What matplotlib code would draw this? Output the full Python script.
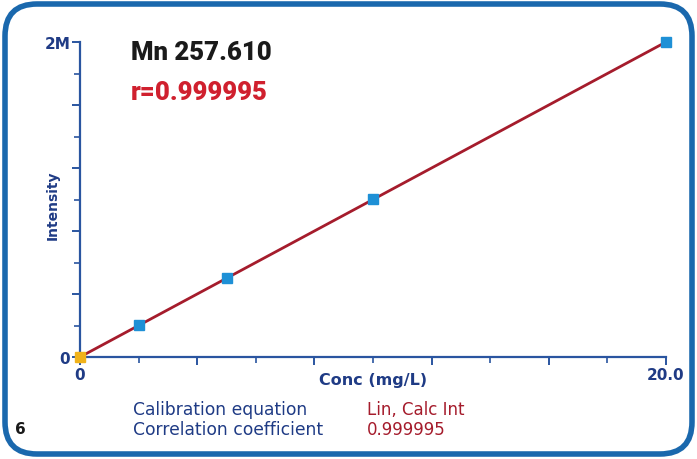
import matplotlib
matplotlib.use("Agg")
import matplotlib.pyplot as plt
from matplotlib.patches import FancyBboxPatch
from matplotlib.transforms import IdentityTransform

# calibration standards
conc = [0, 2, 5, 10, 20]
intensity = [0, 201000, 502000, 1004000, 2000000]
fit_x = [0, 20]
fit_y = [0, 2000000]

x_major = [0, 4, 8, 12, 16, 20]
x_minor = [2, 6, 10, 14, 18]
x_labels = {0: "0", 20: "20.0"}
y_major = [0, 400000, 800000, 1200000, 1600000, 2000000]
y_minor = [200000, 600000, 1000000, 1400000, 1800000]
y_labels = {0: "0", 2000000: "2M"}

navy = "#1f3b85"
axis_blue = "#2a55a0"
dark_red = "#a51c2c"
frame_blue = "#1a68ad"

fig = plt.figure(figsize=(6.97, 4.60), dpi=100)
ax = fig.add_axes([80 / 697, 1 - 358 / 460, 586 / 697, 315 / 460])

ax.plot(fit_x, fit_y, color=dark_red, lw=2, zorder=2, clip_on=False)
ax.plot(conc[1:], intensity[1:], "s", color="#1e90d6", ms=6.5, zorder=3, clip_on=False)
ax.plot(conc[:1], intensity[:1], "s", color="#f0b21a", ms=7, zorder=3, clip_on=False)

ax.set_xlim(0, 20)
ax.set_ylim(0, 2000000)
for s in ["top", "right"]:
    ax.spines[s].set_visible(False)
for s in ["left", "bottom"]:
    ax.spines[s].set_color(axis_blue)
    ax.spines[s].set_linewidth(1.6)

ax.set_xticks(x_major)
ax.set_xticklabels([x_labels.get(v, "") for v in x_major])
ax.set_xticks(x_minor, minor=True)
ax.set_yticks(y_major)
ax.set_yticklabels([y_labels.get(v, "") for v in y_major])
ax.set_yticks(y_minor, minor=True)
ax.tick_params(which="major", length=6, width=1.4, color=axis_blue,
               labelcolor=navy, labelsize=11, pad=1)
ax.tick_params(which="minor", length=4, width=1.2, color=axis_blue)
for lbl in ax.get_xticklabels() + ax.get_yticklabels():
    lbl.set_fontweight("bold")

ax.set_xlabel("Conc (mg/L)", color=navy, fontsize=11.5, fontweight="bold")
ax.xaxis.set_label_coords((373 - 80) / 586, -(381 - 358) / 315)
ax.set_ylabel("Intensity", color=navy, fontsize=10, fontweight="bold")
ax.yaxis.set_label_coords((53 - 80) / 586, (358 - 205) / 315)
ax.xaxis.label.set_va("center")
ax.yaxis.label.set_va("center")

fig.text(131 / 697, 1 - 53 / 460, "Mn 257.610", fontsize=18.5, fontweight=900,
         family="Roboto", color="#1a1a1a", va="center")
fig.text(131 / 697, 1 - 93 / 460, "r=0.999995", fontsize=18.5, fontweight=900,
         family="Roboto", color="#d0202e", va="center")

fig.text(133 / 697, 1 - 410 / 460, "Calibration equation", fontsize=12.3,
         color=navy, va="center")
fig.text(133 / 697, 1 - 430 / 460, "Correlation coefficient", fontsize=12.3,
         color=navy, va="center")
fig.text(367 / 697, 1 - 410 / 460, "Lin, Calc Int", fontsize=12,
         color=dark_red, va="center")
fig.text(367 / 697, 1 - 430 / 460, "0.999995", fontsize=12,
         color=dark_red, va="center")
fig.text(15 / 697, 1 - 430 / 460, "6", fontsize=11, fontweight="bold",
         color="#1a1a1a", va="center")

# rounded frame, in pixel coordinates
frame = FancyBboxPatch((36, 36), 697 - 72, 460 - 72,
                       boxstyle="round,pad=31,rounding_size=32",
                       transform=IdentityTransform(), fill=False,
                       edgecolor=frame_blue, lw=4)
fig.add_artist(frame)

fig.savefig("out.png", dpi=100)
